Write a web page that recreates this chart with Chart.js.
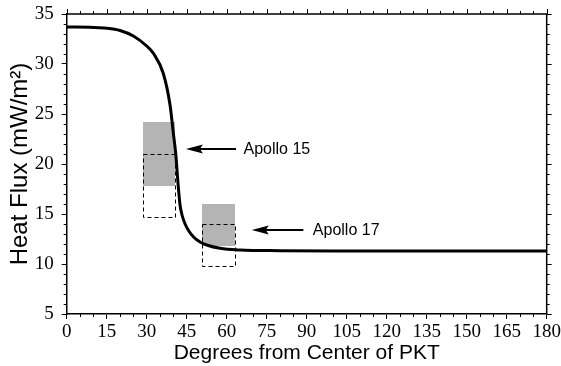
<!DOCTYPE html>
<html>
<head>
<meta charset="utf-8">
<script src="https://cdn.jsdelivr.net/npm/chart.js@4/dist/chart.umd.min.js"></script>
<style>
  html, body { margin: 0; padding: 0; background: #fff; }
  #wrap { width: 561px; height: 366px; }
</style>
</head>
<body>
<div id="wrap"><canvas id="fluxChart" width="561" height="366"></canvas></div>
<script>

// =====================================
// DATA
// =====================================

const curveDeg = [0, 10, 15, 20, 25, 30, 32.5, 36.2, 38.75, 40, 40.9, 41.85, 42.5, 43.3, 44.4, 45.8, 47.5, 50, 52.5, 57.5, 65, 80, 100, 180];
const curveFlux = [33.7, 33.66, 33.58, 33.35, 32.8, 31.8, 31.07, 29.07, 25.9, 23.07, 21.0, 17.7, 15.9, 14.85, 14.0, 13.3, 12.73, 12.2, 11.9, 11.57, 11.4, 11.33, 11.3, 11.3];

const siteNames = ["Apollo 15", "Apollo 17"];
const siteDegFrom = [28.75, 50.9];
const siteDegTo = [40.9, 63.1];
const grayLow = [17.8, 11.8];
const grayHigh = [24.2, 16.0];
const dashLow = [14.7, 9.8];
const dashHigh = [21.0, 14.0];

const arrowTipDeg = [44.7, 69.4];
const arrowTailDeg = [63.5, 88.75];
const arrowFlux = [21.5, 13.4];
const labelDeg = [66.3, 92.3];

const xMin = 0, xMax = 180, xStep = 15, xMinor = 5;
const yMin = 5, yMax = 35, yStep = 5, yMinor = 1;


// =====================================
// BOXES, ARROWS, FRAME
// =====================================

const snap = v => Math.round(v) + 0.5;

const sitePlugin = {
    id: "sites",
    beforeDatasetsDraw(chart) {
        const ctx = chart.ctx;
        const x = chart.scales.x;
        const y = chart.scales.y;
        ctx.save();
        for (let i = 0; i < siteNames.length; i++) {
            const x0 = x.getPixelForValue(siteDegFrom[i]);
            const x1 = x.getPixelForValue(siteDegTo[i]);
            const g0 = y.getPixelForValue(grayHigh[i]);
            const g1 = y.getPixelForValue(grayLow[i]);
            ctx.fillStyle = "#b4b4b4";
            ctx.fillRect(Math.round(x0), Math.round(g0), Math.round(x1 - x0), Math.round(g1 - g0));

            const d0 = snap(y.getPixelForValue(dashHigh[i]));
            const d1 = snap(y.getPixelForValue(dashLow[i]));
            ctx.strokeStyle = "#000";
            ctx.lineWidth = 1;
            ctx.setLineDash([4, 3]);
            ctx.strokeRect(snap(x0), d0, Math.round(x1 - x0), d1 - d0);
        }
        ctx.restore();
    },
    afterDatasetsDraw(chart) {
        const ctx = chart.ctx;
        const x = chart.scales.x;
        const y = chart.scales.y;
        const area = chart.chartArea;
        ctx.save();

        // arrows + labels
        for (let i = 0; i < siteNames.length; i++) {
            const tip = x.getPixelForValue(arrowTipDeg[i]);
            const tail = x.getPixelForValue(arrowTailDeg[i]);
            const py = Math.round(y.getPixelForValue(arrowFlux[i]));
            ctx.strokeStyle = "#000";
            ctx.lineWidth = 2;
            ctx.beginPath();
            ctx.moveTo(tail, py);
            ctx.lineTo(tip + 10, py);
            ctx.stroke();
            ctx.fillStyle = "#000";
            ctx.beginPath();
            ctx.moveTo(tip, py);
            ctx.lineTo(tip + 17, py - 4.5);
            ctx.lineTo(tip + 14, py);
            ctx.lineTo(tip + 17, py + 4.5);
            ctx.closePath();
            ctx.fill();

            ctx.font = "16px 'Liberation Sans', Arial, sans-serif";
            ctx.textAlign = "left";
            ctx.textBaseline = "middle";
            ctx.fillText(siteNames[i], x.getPixelForValue(labelDeg[i]), py + 1);
        }

        // top / right frame
        ctx.strokeStyle = "#000";
        ctx.lineWidth = 1.5;
        ctx.beginPath();
        ctx.moveTo(area.left, area.top);
        ctx.lineTo(area.right, area.top);
        ctx.lineTo(area.right, area.bottom);
        ctx.stroke();

        // tick marks (outward)
        ctx.lineWidth = 1;
        ctx.beginPath();
        for (let v = xMin; v <= xMax; v += xMinor) {
            const px = snap(x.getPixelForValue(v));
            const major = v % xStep === 0;
            const len = major ? 5 : 3;
            ctx.moveTo(px, area.top);
            ctx.lineTo(px, area.top - len);
            if (!major) {
                ctx.moveTo(px, area.bottom);
                ctx.lineTo(px, area.bottom + len);
            }
        }
        for (let v = yMin; v <= yMax; v += yMinor) {
            const py = snap(y.getPixelForValue(v));
            const major = v % yStep === 0;
            const len = major ? 5 : 3;
            ctx.moveTo(area.right, py);
            ctx.lineTo(area.right + len, py);
            if (!major) {
                ctx.moveTo(area.left, py);
                ctx.lineTo(area.left - len, py);
            }
        }
        ctx.stroke();
        ctx.restore();
    }
};


// =====================================
// CHART
// =====================================

const fluxChart =
new Chart(

    document.getElementById("fluxChart"),

    {
        type: "line",

        data: {
            datasets: [{
                label: "Heat Flux",
                data: curveDeg.map((d, i) => ({ x: d, y: curveFlux[i] })),
                borderColor: "#000",
                borderWidth: 3,
                pointRadius: 0,
                fill: false,
                cubicInterpolationMode: "monotone"
            }]
        },

        options: {
            responsive: false,
            animation: false,
            events: [],
            layout: {
                padding: { top: 14, right: 14.3, left: 0, bottom: 0 }
            },
            plugins: {
                legend: { display: false },
                tooltip: { enabled: false }
            },
            scales: {
                x: {
                    type: "linear",
                    min: xMin,
                    max: xMax,
                    ticks: {
                        stepSize: xStep,
                        color: "#000",
                        padding: 2,
                        maxRotation: 0,
                        font: { family: "'Liberation Serif', 'Times New Roman', serif", size: 19 }
                    },
                    grid: {
                        drawOnChartArea: false,
                        color: "#000",
                        tickLength: 5,
                        tickWidth: 1
                    },
                    border: { color: "#000", width: 1.5 },
                    title: {
                        display: true,
                        text: "Degrees from Center of PKT",
                        color: "#000",
                        padding: { top: 0, bottom: 0 },
                        font: { family: "'Liberation Sans', Arial, sans-serif", size: 21 }
                    },
                    afterFit(scale) {
                        scale.height = 52;
                        scale.paddingLeft = 0;
                        scale.paddingRight = 0;
                    }
                },
                y: {
                    min: yMin,
                    max: yMax,
                    ticks: {
                        stepSize: yStep,
                        color: "#000",
                        padding: 8,
                        font: { family: "'Liberation Serif', 'Times New Roman', serif", size: 19 }
                    },
                    grid: {
                        drawOnChartArea: false,
                        color: "#000",
                        tickLength: 5,
                        tickWidth: 1
                    },
                    border: { color: "#000", width: 1.5 },
                    title: {
                        display: true,
                        text: "Heat Flux (mW/m²)",
                        color: "#000",
                        padding: { top: 6, bottom: 0 },
                        font: { family: "'Liberation Sans', Arial, sans-serif", size: 24 }
                    },
                    afterFit(scale) {
                        scale.width = 66.7;
                        scale.paddingTop = 0;
                        scale.paddingBottom = 0;
                    }
                }
            }
        },

        plugins: [sitePlugin]
    }
);
</script>
</body>
</html>
